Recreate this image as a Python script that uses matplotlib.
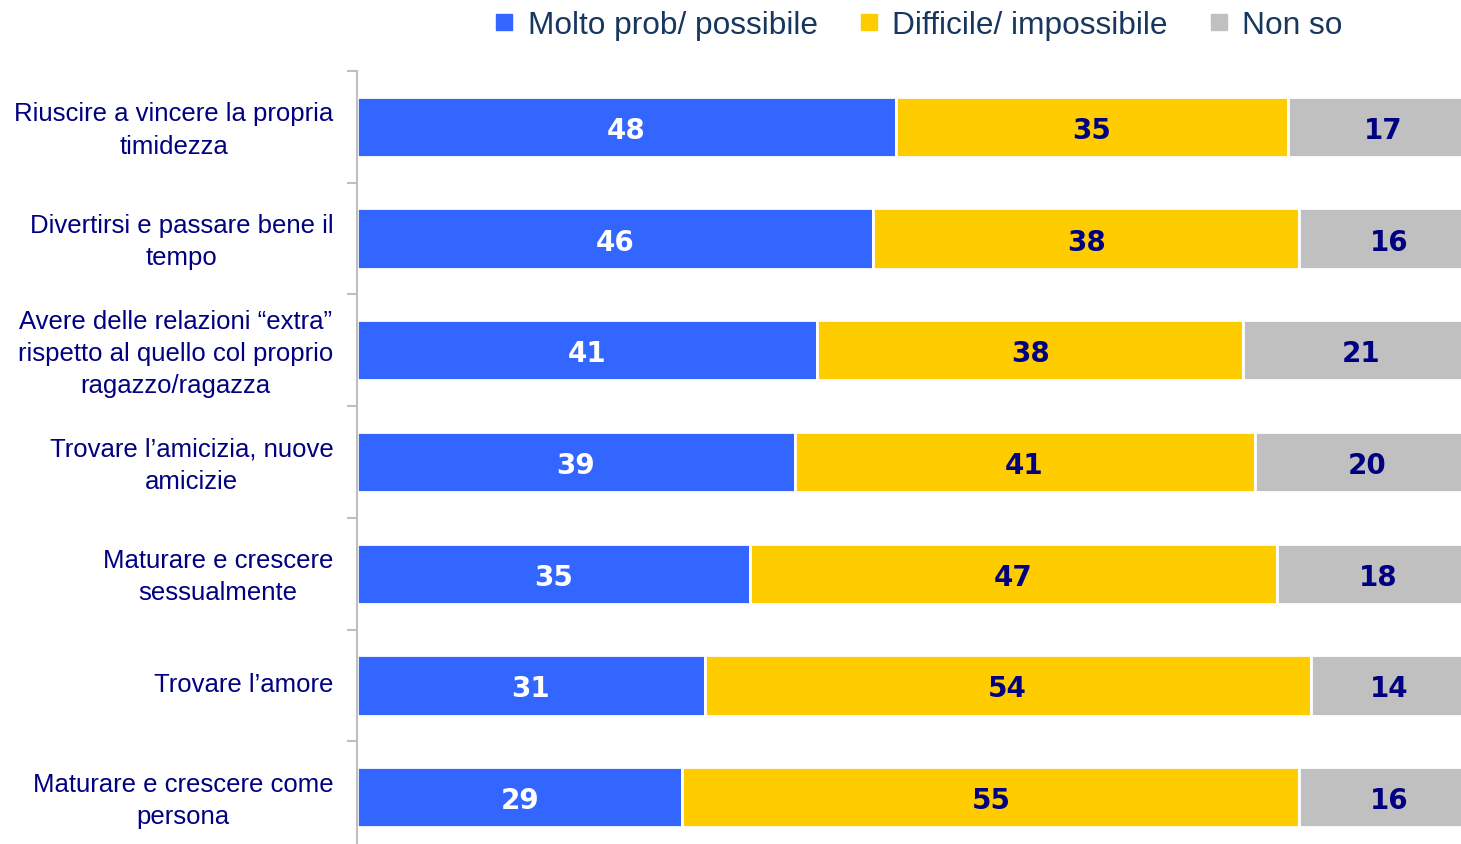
import numpy as np
import matplotlib.pyplot as plt
import matplotlib.transforms as mtrans
from matplotlib.lines import Line2D

categories = [
    "Riuscire a vincere la propria\ntimidezza",
    "Divertirsi e passare bene il\ntempo",
    "Avere delle relazioni \u201cextra\u201d\nrispetto al quello col proprio\nragazzo/ragazza",
    "Trovare l\u2019amicizia, nuove\namicizie",
    "Maturare e crescere\nsessualmente",
    "Trovare l\u2019amore",
    "Maturare e crescere come\npersona",
]
molto = [48, 46, 41, 39, 35, 31, 29]
difficile = [35, 38, 38, 41, 47, 54, 55]
non_so = [17, 16, 21, 20, 18, 14, 16]
series_names = ["Molto prob/ possibile", "Difficile/ impossibile", "Non so"]

colors = ["#3366FF", "#FFCC00", "#C0C0C0"]
text_colors = ["white", "#000080", "#000080"]

plt.rcParams['font.family'] = ['Liberation Sans', 'DejaVu Sans']

fig = plt.figure(figsize=(14.61, 8.45), dpi=100)
ax = fig.add_axes([357 / 1461, 0, 1 - 357 / 1461, 773 / 845])

y = np.arange(len(categories))
left = np.zeros(len(categories))
for vals, col, tcol in zip([molto, difficile, non_so], colors, text_colors):
    vals = np.array(vals, dtype=float)
    ax.barh(y, vals, left=left, height=0.54, color=col, edgecolor="white", linewidth=2)
    for yi, l, v in zip(y, left, vals):
        ax.text(l + v / 2, yi, str(int(v)), ha="center", va="center_baseline",
                color=tcol, fontsize=20, fontweight="bold", family="DejaVu Sans")
    left += vals

ax.set_xlim(0, 98.4)
ax.set_ylim(6.42, -0.5)
ax.set_xticks([])

# boundaries as major ticks, labels on minor ticks at row centres
ax.set_yticks(np.arange(-0.5, 6.5, 1.0))
ax.set_yticklabels([])
ax.set_yticks(y, minor=True)
ax.set_yticklabels(categories, minor=True, fontsize=18.5, color="#000080",
                   multialignment="center", linespacing=1.43)
ax.tick_params(axis="y", which="major", length=7, width=1.5, color="#BFBFBF")
ax.tick_params(axis="y", which="minor", length=0, pad=17)
shift = mtrans.ScaledTranslation(0, 4 / 100, fig.dpi_scale_trans)
for lbl in ax.get_yticklabels(minor=True):
    lbl.set_transform(lbl.get_transform() + shift)

for s in ["top", "right", "bottom"]:
    ax.spines[s].set_visible(False)
ax.spines["left"].set_color("#BFBFBF")
ax.spines["left"].set_linewidth(1.5)

handles = [Line2D([], [], marker="s", linestyle="none", markersize=11,
                  markerfacecolor=c, markeredgecolor=c) for c in colors]
fig.legend(handles, series_names, loc="center", bbox_to_anchor=(918 / 1461, 1 - 26 / 845),
           ncol=3, frameon=False, fontsize=22.8, handlelength=0.7, handletextpad=0.4,
           columnspacing=1.25, labelcolor="#17375E", borderaxespad=0)

fig.savefig("out.png", dpi=100)
